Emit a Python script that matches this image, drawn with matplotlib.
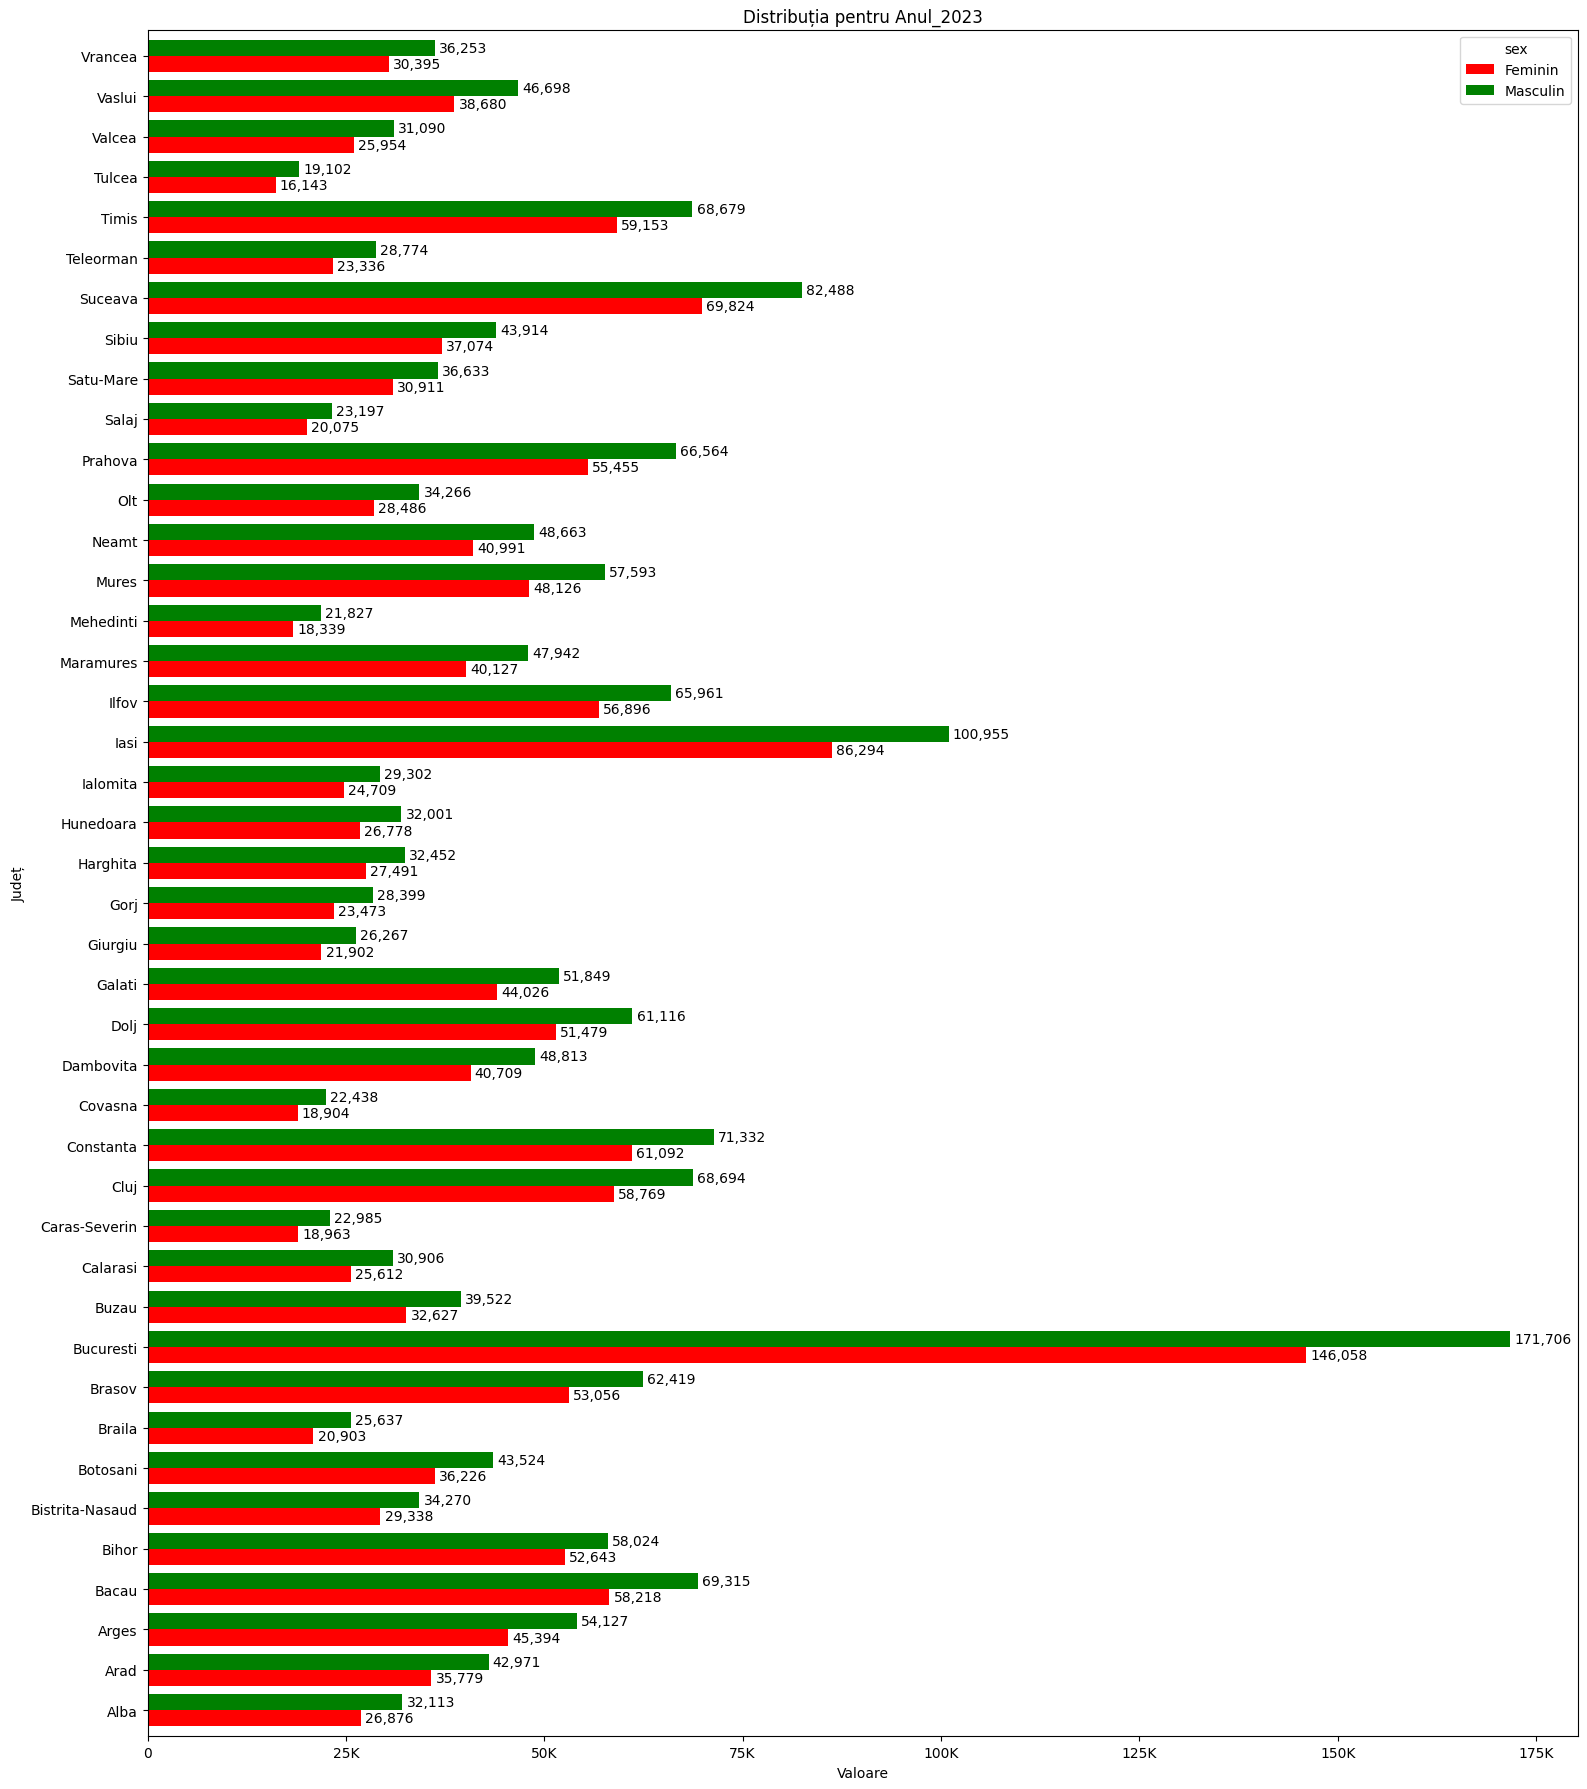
import matplotlib
matplotlib.use("Agg")
import matplotlib.pyplot as plt
import numpy as np
from matplotlib.ticker import FuncFormatter, MultipleLocator

judete = ["Alba", "Arad", "Arges", "Bacau", "Bihor", "Bistrita-Nasaud", "Botosani",
          "Braila", "Brasov", "Bucuresti", "Buzau", "Calarasi", "Caras-Severin", "Cluj",
          "Constanta", "Covasna", "Dambovita", "Dolj", "Galati", "Giurgiu", "Gorj",
          "Harghita", "Hunedoara", "Ialomita", "Iasi", "Ilfov", "Maramures", "Mehedinti",
          "Mures", "Neamt", "Olt", "Prahova", "Salaj", "Satu-Mare", "Sibiu", "Suceava",
          "Teleorman", "Timis", "Tulcea", "Valcea", "Vaslui", "Vrancea"]

feminin = [26876, 35779, 45394, 58218, 52643, 29338, 36226,
           20903, 53056, 146058, 32627, 25612, 18963, 58769,
           61092, 18904, 40709, 51479, 44026, 21902, 23473,
           27491, 26778, 24709, 86294, 56896, 40127, 18339,
           48126, 40991, 28486, 55455, 20075, 30911, 37074, 69824,
           23336, 59153, 16143, 25954, 38680, 30395]

masculin = [32113, 42971, 54127, 69315, 58024, 34270, 43524,
            25637, 62419, 171706, 39522, 30906, 22985, 68694,
            71332, 22438, 48813, 61116, 51849, 26267, 28399,
            32452, 32001, 29302, 100955, 65961, 47942, 21827,
            57593, 48663, 34266, 66564, 23197, 36633, 43914, 82488,
            28774, 68679, 19102, 31090, 46698, 36253]

series_names = ["Feminin", "Masculin"]
series_colors = ["red", "green"]

fig, ax = plt.subplots(figsize=(15.87, 17.9), dpi=100)
n = len(judete)
y = np.arange(n)
h = 0.4
b1 = ax.barh(y - h / 2, feminin, height=h, color=series_colors[0], label=series_names[0])
b2 = ax.barh(y + h / 2, masculin, height=h, color=series_colors[1], label=series_names[1])
for bars in (b1, b2):
    ax.bar_label(bars, labels=[f"{v:,.0f}" for v in bars.datavalues], padding=3, fontsize=10)

ax.set_yticks(y)
ax.set_yticklabels(judete)
ax.set_ylim(-0.65, n - 1 + 0.65)
ax.set_xlim(0, max(masculin) * 1.05)
ax.xaxis.set_major_locator(MultipleLocator(25000))
ax.xaxis.set_major_formatter(FuncFormatter(lambda x, p: "0" if x == 0 else f"{int(round(x / 1000))}K"))
ax.set_xlabel("Valoare")
ax.set_ylabel("Județ")
ax.set_title("Distribuția pentru Anul_2023")
ax.legend(title="sex", loc="upper right")
fig.subplots_adjust(left=0.0930, right=0.9943, top=0.9829, bottom=0.0294)
fig.savefig("out.png", dpi=100)
